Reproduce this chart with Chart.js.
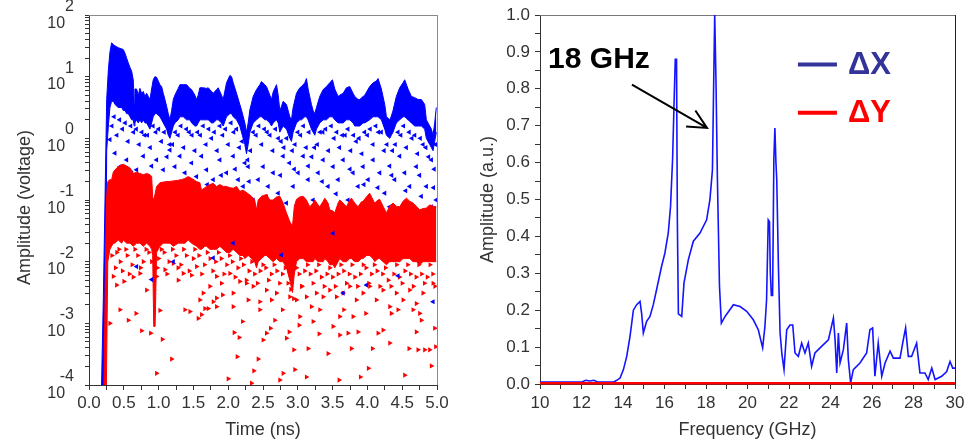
<!DOCTYPE html>
<html><head><meta charset="utf-8">
<script src="https://cdn.jsdelivr.net/npm/chart.js@4.4.1/dist/chart.umd.min.js"></script>
<style>
html,body{margin:0;padding:0;background:#fff;width:967px;height:442px;overflow:hidden}
canvas{position:absolute;top:0}
#c1{left:0}
#c2{left:470px}
</style></head><body>
<canvas id="c1" width="470" height="442"></canvas>
<canvas id="c2" width="497" height="442"></canvas>
<script>
// ================= DATA =================
// ---- Left panel (time domain), amplitudes given as log10(volt) ----
const timeTicks = [0,0.25,0.5,0.75,1,1.25,1.5,1.75,2,2.25,2.5,2.75,3,3.25,3.5,3.75,4,4.25,4.5,4.75,5];
const timeTickLabels = ['0.0','','0.5','','1.0','','1.5','','2.0','','2.5','','3.0','','3.5','','4.0','','4.5','','5.0'];
const ampDecades = [-4,-3,-2,-1,0,1,2];
const ampMinorMultipliers = [2,3,4,5,6,7,8,9];

// blue (ΔX) dense band: [time ns, upper log10, lower log10]
const blueBand = [[0.18,-4.0,-4.0],[0.206,-2.6,-4.0],[0.23,-1.0,-4.0],[0.254,0.63,-0.2],[0.278,1.11,0.2],[0.301,1.40,0.5],[0.325,1.55,0.6],[0.349,1.52,0.6],[0.373,1.50,0.55],[0.42,1.47,0.5],[0.47,1.45,0.5],[0.493,1.44,0.45],[0.517,1.38,0.45],[0.541,1.30,0.4],[0.565,1.22,0.4],[0.589,1.15,0.35],[0.612,1.09,0.3],[0.636,0.95,0.3],[0.65,0.57,0.2],[0.66,0.80,0.25],[0.684,0.80,0.3],[0.708,0.70,0.25],[0.732,0.81,0.3],[0.756,0.73,0.25],[0.78,0.76,0.3],[0.804,0.68,0.25],[0.828,0.73,0.25],[0.852,0.68,0.2],[0.876,0.63,0.15],[0.9,0.80,0.25],[0.923,0.95,0.35],[0.947,1.0,0.4],[0.971,0.99,0.4],[1.019,0.87,0.35],[1.043,0.84,0.3],[1.067,0.73,0.25],[1.091,0.63,0.2],[1.115,0.52,0.15],[1.139,0.40,0.05],[1.163,0.30,0.0],[1.187,0.45,0.1],[1.211,0.63,0.2],[1.234,0.70,0.25],[1.282,0.81,0.3],[1.306,0.87,0.35],[1.354,0.87,0.35],[1.402,0.87,0.3],[1.45,0.81,0.3],[1.474,0.79,0.25],[1.521,0.70,0.2],[1.545,0.63,0.2],[1.569,0.70,0.25],[1.593,0.82,0.3],[1.641,0.82,0.3],[1.689,0.81,0.3],[1.713,0.82,0.3],[1.761,0.76,0.25],[1.785,0.73,0.25],[1.833,0.79,0.3],[1.856,0.82,0.3],[1.904,0.70,0.25],[1.928,0.63,0.2],[1.976,0.90,0.35],[2.024,1.02,0.4],[2.048,1.0,0.4],[2.072,0.90,0.35],[2.12,0.73,0.3],[2.167,0.55,0.2],[2.191,0.46,0.1],[2.239,0.25,-0.1],[2.263,0.10,-0.25],[2.287,0.25,-0.1],[2.311,0.46,0.1],[2.359,0.68,0.25],[2.407,0.79,0.3],[2.455,0.87,0.35],[2.478,0.92,0.35],[2.526,0.87,0.3],[2.55,0.84,0.3],[2.598,0.70,0.25],[2.622,0.63,0.2],[2.646,0.75,0.25],[2.694,0.87,0.3],[2.718,0.70,0.25],[2.742,0.45,0.1],[2.766,0.52,0.15],[2.789,0.60,0.2],[2.837,0.55,0.15],[2.885,0.35,0.0],[2.909,0.30,-0.05],[2.933,0.50,0.1],[2.981,0.73,0.25],[3.029,0.82,0.3],[3.053,0.84,0.3],[3.101,0.90,0.35],[3.124,0.97,0.35],[3.148,0.80,0.3],[3.196,0.55,0.15],[3.22,0.45,0.1],[3.244,0.40,0.05],[3.268,0.50,0.15],[3.316,0.68,0.25],[3.364,0.79,0.3],[3.411,0.84,0.3],[3.459,0.90,0.35],[3.498,0.95,0.35],[3.531,0.80,0.3],[3.579,0.68,0.25],[3.603,0.70,0.25],[3.651,0.73,0.25],[3.699,0.82,0.3],[3.746,0.84,0.3],[3.794,0.73,0.25],[3.818,0.68,0.2],[3.866,0.63,0.2],[3.89,0.63,0.2],[3.938,0.68,0.25],[3.962,0.70,0.25],[4.033,0.84,0.3],[4.081,0.90,0.35],[4.129,0.93,0.35],[4.153,0.97,0.35],[4.201,0.80,0.3],[4.249,0.55,0.15],[4.273,0.35,0.05],[4.321,0.30,0.0],[4.344,0.36,0.05],[4.368,0.45,0.1],[4.416,0.68,0.25],[4.464,0.82,0.3],[4.512,0.90,0.35],[4.536,0.95,0.35],[4.584,0.80,0.3],[4.632,0.68,0.25],[4.68,0.66,0.2],[4.727,0.63,0.2],[4.775,0.63,0.2],[4.823,0.55,0.15],[4.847,0.30,0.0],[4.895,0.20,-0.1],[4.919,0.15,-0.15],[4.943,0.05,-0.2],[4.967,0.25,-0.05],[4.99,0.50,0.1]];

// red (ΔY) dense band: [time ns, upper log10, lower log10]
const redBand = [[0.215,-4.0,-4.0],[0.235,-2.2,-4.0],[0.25,-1.0,-4.0],[0.27,-0.70,-2.0],[0.30,-0.67,-1.8],[0.325,-0.67,-1.75],[0.349,-0.55,-1.7],[0.373,-0.51,-1.7],[0.42,-0.46,-1.65],[0.47,-0.43,-1.7],[0.493,-0.42,-1.65],[0.541,-0.45,-1.7],[0.589,-0.48,-1.7],[0.636,-0.57,-1.75],[0.684,-0.55,-1.7],[0.732,-0.57,-1.7],[0.78,-0.59,-1.75],[0.828,-0.57,-1.7],[0.876,-0.59,-1.75],[0.90,-0.62,-1.8],[0.915,-0.95,-1.9],[0.93,-1.0,-3.05],[0.95,-0.9,-3.05],[0.971,-0.78,-1.85],[1.019,-0.72,-1.75],[1.067,-0.71,-1.7],[1.115,-0.70,-1.7],[1.163,-0.70,-1.7],[1.211,-0.69,-1.75],[1.282,-0.68,-1.7],[1.33,-0.67,-1.7],[1.378,-0.65,-1.7],[1.426,-0.62,-1.65],[1.474,-0.65,-1.7],[1.545,-0.70,-1.75],[1.593,-0.72,-1.8],[1.617,-0.84,-1.8],[1.665,-0.80,-1.75],[1.689,-0.78,-1.75],[1.737,-0.75,-1.8],[1.785,-0.73,-1.8],[1.833,-0.78,-1.8],[1.88,-0.75,-1.75],[1.928,-0.78,-1.8],[1.976,-0.78,-1.85],[2.024,-0.80,-1.85],[2.072,-0.81,-1.8],[2.12,-0.78,-1.85],[2.167,-0.86,-1.9],[2.215,-0.84,-1.9],[2.239,-0.86,-1.95],[2.287,-0.90,-1.9],[2.335,-0.94,-1.95],[2.38,-1.0,-2.0],[2.407,-1.16,-2.1],[2.431,-1.0,-2.0],[2.478,-0.94,-1.95],[2.526,-0.92,-1.9],[2.55,-0.91,-1.9],[2.598,-1.0,-1.95],[2.646,-1.0,-2.0],[2.694,-0.95,-1.95],[2.742,-0.94,-2.0],[2.789,-1.05,-2.0],[2.837,-1.21,-2.1],[2.885,-1.35,-2.3],[2.923,-1.43,-2.5],[2.95,-1.1,-2.2],[2.981,-0.99,-2.0],[3.029,-0.95,-1.95],[3.077,-0.94,-1.95],[3.124,-1.0,-2.0],[3.172,-1.11,-2.0],[3.22,-1.05,-2.0],[3.244,-1.0,-1.95],[3.292,-1.08,-2.0],[3.316,-1.11,-2.0],[3.364,-1.02,-2.0],[3.388,-0.97,-1.95],[3.435,-1.05,-2.0],[3.459,-1.16,-2.05],[3.507,-1.18,-2.05],[3.531,-1.21,-2.1],[3.579,-1.05,-2.0],[3.603,-1.0,-1.95],[3.651,-1.05,-2.0],[3.699,-1.11,-2.0],[3.746,-1.0,-1.95],[3.77,-0.97,-1.95],[3.818,-1.05,-2.0],[3.866,-1.11,-2.0],[3.914,-1.03,-1.95],[3.938,-1.02,-1.95],[3.986,-0.95,-1.9],[4.033,-0.89,-1.9],[4.081,-1.0,-1.95],[4.105,-1.05,-2.0],[4.153,-1.0,-1.95],[4.177,-0.99,-1.95],[4.225,-1.10,-2.0],[4.273,-1.21,-2.05],[4.321,-1.10,-2.0],[4.368,-1.05,-2.0],[4.416,-1.10,-2.0],[4.464,-1.11,-2.0],[4.512,-1.02,-1.95],[4.56,-0.97,-1.95],[4.608,-1.02,-1.95],[4.656,-1.05,-2.0],[4.703,-1.10,-2.0],[4.751,-1.16,-2.05],[4.799,-1.14,-2.0],[4.847,-1.13,-2.0],[4.895,-1.08,-2.0],[4.943,-1.10,-2.0],[4.99,-1.11,-2.0]];

// isolated blue samples below the dense band: [time ns, log10]
const blueDots = [[0.301,-0.02],[0.373,-0.24],[0.445,-0.46],[0.541,-0.35],[0.612,-0.56],[0.684,-0.51],[0.78,-0.29],[0.852,-0.62],[0.971,-0.35],[1.067,-0.51],[1.163,-0.19],[1.234,-0.46],[1.306,-0.29],[1.378,-0.56],[1.474,-0.40],[1.545,-0.62],[1.617,-0.29],[1.689,-0.51],[1.785,-0.67],[1.88,-0.35],[1.976,-0.56],[2.072,-0.29],[2.144,-0.67],[2.215,-0.78],[2.287,-0.46],[2.359,-1.0],[2.431,-0.67],[2.502,-0.46],[2.574,-0.78],[2.646,-0.56],[2.718,-0.89],[2.789,-0.29],[2.837,-1.05],[2.933,-0.78],[3.005,-0.56],[3.077,-0.29],[3.148,-0.67],[3.22,-1.0],[3.292,-0.56],[3.364,-0.35],[3.435,-0.78],[3.507,-0.46],[3.579,-0.67],[3.651,-0.35],[3.722,-1.0],[3.794,-0.56],[3.866,-0.78],[3.938,-0.46],[4.01,-0.67],[4.081,-0.35],[4.177,-0.56],[4.249,-0.89],[4.321,-1.11],[4.392,-0.67],[4.464,-0.29],[4.536,-0.56],[4.608,-0.78],[4.703,-0.46],[4.775,-0.94],[4.847,-0.78],[4.919,-1.11],[4.99,-1.0],[4.368,-1.21],[4.943,-1.21],
[0.33,0.2],[0.40,0.05],[0.48,0.15],[0.56,-0.05],[0.64,0.1],[0.72,-0.1],[0.80,0.05],[0.88,-0.15],[0.96,0.1],[1.04,-0.05],[1.12,-0.3],[1.20,-0.1],[1.28,0.05],[1.36,-0.15],[1.44,0.1],[1.52,-0.2],[1.60,0.05],[1.68,-0.1],[1.76,0.0],[1.84,-0.2],[1.92,0.05],[2.00,-0.1],[2.08,0.1],[2.16,-0.15],[2.24,-0.4],[2.32,-0.2],[2.40,0.05],[2.48,-0.1],[2.56,0.1],[2.64,-0.2],[2.72,0.0],[2.80,-0.15],[2.88,-0.4],[2.96,-0.1],[3.04,0.05],[3.12,-0.15],[3.20,-0.3],[3.28,-0.1],[3.36,0.1],[3.44,-0.2],[3.52,0.0],[3.60,-0.15],[3.68,0.05],[3.76,-0.2],[3.84,-0.05],[3.92,-0.25],[4.00,0.05],[4.08,-0.1],[4.16,0.1],[4.24,-0.2],[4.32,-0.45],[4.40,-0.1],[4.48,0.05],[4.56,-0.15],[4.64,0.0],[4.72,-0.25],[4.80,-0.1],[4.88,-0.3],[4.96,-0.5],
[0.36,0.35],[0.44,0.3],[0.52,0.25],[0.60,0.2],[0.68,0.15],[0.76,0.1],[0.84,0.05],[0.92,0.2],[1.00,0.15],[1.08,0.1],[1.16,-0.1],[1.24,0.1],[1.32,0.2],[1.40,0.15],[1.48,0.05],[1.56,0.1],[1.64,0.2],[1.72,0.15],[1.80,0.1],[1.88,0.2],[1.96,0.15],[2.04,0.25],[2.12,0.15],[2.20,-0.05],[2.28,-0.35],[2.36,0.1],[2.44,0.2],[2.52,0.15],[2.60,0.05],[2.68,0.15],[2.76,-0.05],[2.84,0.0],[2.92,-0.2],[3.00,0.1],[3.08,0.2],[3.16,0.1],[3.24,-0.15],[3.32,0.1],[3.40,0.15],[3.48,0.2],[3.56,0.1],[3.64,0.05],[3.72,0.15],[3.80,0.05],[3.88,0.0],[3.96,0.1],[4.04,0.15],[4.12,0.2],[4.20,0.1],[4.28,-0.1],[4.36,-0.2],[4.44,0.1],[4.52,0.2],[4.60,0.1],[4.68,0.05],[4.76,0.0],[4.84,-0.15],[4.92,-0.35],[4.98,-0.1],
[0.50,-0.7],[0.66,-0.8],[0.90,-0.45],[1.10,-0.75],[1.30,-0.7],[1.50,-0.85],[1.70,-0.75],[1.90,-0.6],[2.10,-0.5],[2.30,-0.7],[2.55,-0.95],[2.75,-0.6],[2.95,-0.5],[3.15,-0.45],[3.35,-0.7],[3.55,-0.9],[3.75,-0.5],[3.95,-0.75],[4.15,-0.8],[4.35,-0.6],[4.55,-0.85],[4.75,-0.6],[4.95,-0.8]];

// blue samples that show through inside the red cloud
const blueDotsOverRed = [[1.211,-2.0],[1.785,-1.94],[0.9,-2.29],[0.684,-2.08],[2.766,-1.89],[3.986,-2.38],[4.44,-2.23],[4.943,-2.65],[3.507,-1.54],[3.651,-2.51],[2.072,-1.70]];

// isolated red samples below the dense band: [time ns, log10]
const redDots = [[0.301,-3.0],[0.445,-2.78],[0.565,-2.95],[0.675,-2.84],[0.756,-3.12],[0.885,-3.16],[0.971,-3.81],[1.053,-3.26],[1.019,-2.79],[1.187,-3.58],[1.378,-2.78],[1.45,-2.81],[1.569,-2.92],[1.617,-2.86],[1.665,-2.76],[1.713,-2.76],[1.785,-2.65],[1.833,-2.59],[1.919,-2.54],[2.0,-3.9],[2.086,-3.15],[2.129,-3.54],[2.158,-3.23],[2.206,-2.97],[2.287,-2.62],[2.335,-3.97],[2.368,-3.77],[2.431,-3.58],[2.502,-3.27],[2.55,-3.16],[2.608,-3.08],[2.67,-2.95],[2.742,-3.92],[2.789,-3.81],[2.837,-3.24],[2.876,-3.14],[2.943,-3.43],[2.957,-3.75],[3.019,-3.03],[3.124,-3.87],[3.148,-3.41],[3.22,-2.97],[3.306,-3.17],[3.435,-3.49],[3.507,-3.05],[3.593,-3.92],[3.603,-3.19],[3.66,-2.78],[3.722,-3.16],[3.77,-3.41],[3.866,-3.14],[3.9,-3.87],[3.976,-2.84],[4.014,-3.73],[4.072,-3.41],[4.153,-3.16],[4.225,-3.11],[4.321,-3.32],[4.344,-2.84],[4.44,-2.78],[4.536,-3.84],[4.598,-3.41],[4.703,-3.14],[4.727,-3.43],[4.775,-2.95],[4.823,-3.43],[4.919,-3.69],[4.967,-3.08],[4.981,-3.38],[4.895,-3.43],
[0.349,-2.24],[0.397,-2.38],[0.502,-2.32],[0.636,-2.25],[0.732,-2.19],[0.828,-2.46],[0.971,-2.24],[1.091,-2.13],[1.211,-2.03],[1.282,-2.30],[1.354,-2.19],[1.474,-2.22],[1.545,-2.08],[1.641,-2.51],[1.737,-2.40],[1.833,-2.24],[1.904,-2.35],[2.024,-2.19],[2.072,-2.51],[2.167,-2.32],[2.263,-2.35],[2.359,-2.40],[2.455,-2.65],[2.55,-2.46],[2.622,-2.62],[2.694,-2.51],[2.78,-2.78],[2.885,-2.57],[2.981,-2.62],[3.053,-2.40],[3.124,-2.57],[3.196,-2.73],[3.268,-2.51],[3.364,-2.57],[3.459,-2.46],[3.555,-2.57],[3.651,-2.51],[3.746,-2.40],[3.842,-2.62],[3.938,-2.51],[4.033,-2.40],[4.129,-2.62],[4.225,-2.46],[4.321,-2.73],[4.416,-2.51],[4.512,-2.62],[4.608,-2.46],[4.703,-2.68],[4.799,-2.51],[4.943,-2.35],[4.751,-2.84],[4.656,-2.78],[3.603,-2.89],[3.794,-2.89],[3.316,-2.78],[3.029,-2.89],[2.455,-2.78],[2.072,-2.73],[1.593,-2.62],[1.833,-2.73],
[0.40,-1.85],[0.45,-2.0],[0.55,-1.9],[0.62,-2.05],[0.70,-1.9],[0.78,-2.0],[0.86,-1.85],[1.00,-1.95],[1.08,-1.85],[1.15,-2.0],[1.25,-1.9],[1.32,-2.05],[1.40,-1.9],[1.50,-1.95],[1.58,-1.9],[1.66,-2.05],[1.74,-1.95],[1.82,-2.0],[1.90,-1.95],[1.98,-2.05],[2.06,-2.0],[2.14,-2.1],[2.22,-2.05],[2.30,-2.15],[2.38,-2.2],[2.46,-2.15],[2.54,-2.1],[2.62,-2.2],[2.70,-2.15],[2.78,-2.2],[2.86,-2.35],[2.94,-2.6],[3.02,-2.2],[3.10,-2.15],[3.18,-2.2],[3.26,-2.15],[3.34,-2.25],[3.42,-2.2],[3.50,-2.25],[3.58,-2.2],[3.66,-2.15],[3.74,-2.2],[3.82,-2.25],[3.90,-2.2],[3.98,-2.1],[4.06,-2.2],[4.14,-2.15],[4.22,-2.2],[4.30,-2.3],[4.38,-2.2],[4.46,-2.25],[4.54,-2.15],[4.62,-2.2],[4.70,-2.25],[4.78,-2.2],[4.86,-2.25],[4.94,-2.2],
[0.33,-1.9],[0.38,-2.1],[0.43,-1.8],[0.48,-2.15],[0.53,-1.8],[0.58,-2.2],[0.66,-1.8],[0.74,-2.1],[0.82,-1.8],[0.90,-2.0],[0.98,-2.1],[1.04,-1.8],[1.12,-2.2],[1.20,-1.8],[1.28,-2.1],[1.36,-1.8],[1.44,-2.15],[1.52,-1.8],[1.62,-2.2],[1.70,-1.85],[1.78,-2.15],[1.86,-1.85],[1.94,-2.2],[2.02,-1.9],[2.10,-2.25],[2.18,-1.95],[2.26,-2.3],[2.34,-2.0],[2.42,-2.35],[2.50,-2.05],[2.58,-2.3],[2.66,-2.05],[2.74,-2.35],[2.82,-2.1],[2.90,-2.45],[2.98,-2.1],[3.06,-2.4],[3.14,-2.05],[3.22,-2.35],[3.30,-2.05],[3.38,-2.4],[3.46,-2.1],[3.54,-2.4],[3.62,-2.05],[3.70,-2.35],[3.78,-2.05],[3.86,-2.4],[3.94,-2.05],[4.02,-2.35],[4.10,-2.05],[4.18,-2.4],[4.26,-2.1],[4.34,-2.4],[4.42,-2.05],[4.50,-2.35],[4.58,-2.05],[4.66,-2.4],[4.74,-2.05],[4.82,-2.35],[4.90,-2.05],[4.97,-2.4]];

// ---- Right panel (spectrum) ----
const freqTicks = [10,11,12,13,14,15,16,17,18,19,20,21,22,23,24,25,26,27,28,29,30];
const freqTickLabels = ['10','','12','','14','','16','','18','','20','','22','','24','','26','','28','','30'];
const auTicks = [0,0.05,0.1,0.15,0.2,0.25,0.3,0.35,0.4,0.45,0.5,0.55,0.6,0.65,0.7,0.75,0.8,0.85,0.9,0.95,1.0];
const auTickLabels = ['0.0','','0.1','','0.2','','0.3','','0.4','','0.5','','0.6','','0.7','','0.8','','0.9','','1.0'];

const dxFreq = [10.0,10.5,11.0,11.5,12.0,12.2,12.4,12.6,12.8,13.2,13.53,13.7,13.86,14.02,14.18,14.34,14.42,14.5,14.66,14.82,14.9,14.98,15.14,15.3,15.46,15.62,15.86,16.02,16.18,16.29,16.39,16.47,16.52,16.58,16.62,16.67,16.83,16.94,17.15,17.39,17.71,18.03,18.19,18.31,18.37,18.42,18.48,18.55,18.65,18.74,18.92,19.32,19.64,19.96,20.28,20.52,20.73,20.84,20.92,21.0,21.06,21.1,21.15,21.21,21.27,21.32,21.37,21.41,21.49,21.57,21.66,21.76,21.89,22.05,22.18,22.29,22.45,22.61,22.77,22.93,23.09,23.25,23.57,23.9,24.14,24.22,24.3,24.38,24.46,24.62,24.78,24.86,24.97,25.1,25.42,25.74,25.9,26.03,26.14,26.3,26.47,26.63,26.87,27.03,27.35,27.51,27.62,27.75,27.91,28.15,28.31,28.55,28.71,28.88,29.04,29.36,29.6,29.76,29.89,30.0];
const dxAmp = [0.005,0.005,0.005,0.005,0.005,0.010,0.008,0.010,0.005,0.005,0.005,0.010,0.016,0.039,0.075,0.13,0.165,0.20,0.215,0.224,0.19,0.138,0.17,0.183,0.215,0.256,0.319,0.355,0.409,0.48,0.61,0.78,0.88,0.88,0.44,0.19,0.183,0.274,0.337,0.387,0.409,0.445,0.50,0.58,0.815,1.0,0.825,0.554,0.265,0.165,0.183,0.215,0.21,0.197,0.174,0.147,0.098,0.156,0.229,0.445,0.44,0.30,0.24,0.24,0.61,0.694,0.60,0.554,0.319,0.138,0.08,0.039,0.147,0.16,0.16,0.084,0.075,0.111,0.084,0.111,0.048,0.084,0.102,0.12,0.179,0.12,0.03,0.138,0.057,0.093,0.165,0.066,0.003,0.039,0.057,0.084,0.147,0.152,0.021,0.111,0.021,0.057,0.089,0.07,0.07,0.12,0.152,0.075,0.075,0.111,0.03,0.03,0.012,0.043,0.012,0.021,0.034,0.061,0.043,0.043];
const dyFreq = [10, 15, 20, 25, 30];
const dyAmp = [0.002, 0.002, 0.002, 0.002, 0.002];

const noteText = '18 GHz';
const noteTextAt = [10.39, 0.857];     // GHz, a.u. (left / baseline)
const noteArrowFrom = [14.43, 0.811];
const noteArrowTo = [18.05, 0.694];
const legendItems = [
  {label: 'ΔX', color: '#333399', y: 0.866},
  {label: 'ΔY', color: '#ff0000', y: 0.735}
];
const legendLineFrom = 22.43, legendLineTo = 24.31, legendTextX = 24.84;

// ================= RENDER =================
const FONT = "'Liberation Sans', Arial, Helvetica, sans-serif";
const TEXT = '#333333';

const ampTickValues = [], ampTickLabels = [];
ampDecades.forEach((e, k) => {
  ampTickValues.push(Math.pow(10, e)); ampTickLabels.push([String(e), '10  ']);
  if (k < ampDecades.length - 1) ampMinorMultipliers.forEach(m => { ampTickValues.push(m * Math.pow(10, e)); ampTickLabels.push(''); });
});

const framePlugin = {
  id: 'frame',
  beforeDatasetsDraw(chart, args, opts) {
    const {ctx, chartArea: a} = chart;
    ctx.save(); ctx.lineWidth = 1;
    ctx.strokeStyle = opts.top; ctx.beginPath(); ctx.moveTo(a.left, a.top + 0.5); ctx.lineTo(a.right + 1, a.top + 0.5); ctx.stroke();
    ctx.strokeStyle = opts.right; ctx.beginPath(); ctx.moveTo(a.right + 0.5, a.top); ctx.lineTo(a.right + 0.5, a.bottom); ctx.stroke();
    ctx.restore();
  }
};

const up = rows => rows.map(r => ({x: r[0], y: Math.pow(10, r[1])}));
const lo = rows => rows.map(r => ({x: r[0], y: Math.pow(10, r[2])}));
const dots = rows => rows.map(r => ({x: r[0], y: Math.pow(10, r[1])}));
const dotStyle = (c, rot) => ({showLine: false, pointStyle: 'triangle', rotation: rot, pointRadius: 3, pointBackgroundColor: c, pointBorderWidth: 0, pointBorderColor: c, borderColor: c});
const bandStyle = c => ({borderColor: c, borderWidth: 1, backgroundColor: c, pointRadius: 0, tension: 0});

const tickFont = {family: FONT, size: 17};
const titleFont = {family: FONT, size: 18};

new Chart(document.getElementById('c1'), {
  type: 'line',
  data: {datasets: [
    {data: dots(blueDotsOverRed), ...dotStyle('#0000ff', 270)},
    {data: dots(redDots), ...dotStyle('#ff0000', 90)},
    {data: up(redBand), ...bandStyle('#ff0000'), fill: '+1'},
    {data: lo(redBand), ...bandStyle('#ff0000'), fill: false},
    {data: dots(blueDots), ...dotStyle('#0000ff', 270)},
    {data: up(blueBand), ...bandStyle('#0000ff'), fill: '+1'},
    {data: lo(blueBand), ...bandStyle('#0000ff'), fill: false}
  ]},
  options: {
    responsive: false, animation: false, devicePixelRatio: 1,
    layout: {padding: {top: 15, right: 33, left: 0, bottom: 0}},
    plugins: {legend: {display: false}, tooltip: {enabled: false}, frame: {top: '#8a8a8a', right: '#8a8a8a'}},
    scales: {
      x: {
        type: 'linear', min: 0, max: 5,
        afterBuildTicks: s => { s.ticks = timeTicks.map(v => ({value: v})); },
        afterFit: s => { s.height = 57; s.paddingLeft = 0; s.paddingRight = 0; },
        ticks: {autoSkip: false, maxRotation: 0, padding: 3, color: TEXT, font: tickFont, callback: (v, i) => timeTickLabels[i]},
        grid: {drawOnChartArea: false, tickLength: 5, tickColor: '#333'},
        border: {color: '#333', width: 1},
        title: {display: true, text: 'Time (ns)', color: TEXT, font: titleFont, padding: {top: 0, bottom: 1}}
      },
      y: {
        type: 'logarithmic', min: 1e-4, max: 100,
        afterBuildTicks: s => { s.ticks = ampTickValues.map(v => ({value: v})); },
        afterFit: s => { s.width = 89; s.paddingTop = 0; s.paddingBottom = 0; },
        ticks: {autoSkip: false, padding: 11, color: TEXT, font: {family: FONT, size: 16, lineHeight: 1.05}, callback: (v, i) => ampTickLabels[i]},
        grid: {drawOnChartArea: false, tickLength: 4, tickColor: '#333'},
        border: {color: '#333', width: 1},
        title: {display: true, text: 'Amplitude (voltage)   ', color: TEXT, font: titleFont, padding: {top: 14, bottom: 0}}
      }
    }
  },
  plugins: [framePlugin]
});

const notePlugin = {
  id: 'note',
  afterDatasetsDraw(chart) {
    const {ctx, scales: {x, y}} = chart;
    ctx.save();
    ctx.fillStyle = '#000'; ctx.font = `bold 30px ${FONT}`; ctx.textAlign = 'left'; ctx.textBaseline = 'alphabetic';
    ctx.fillText(noteText, x.getPixelForValue(noteTextAt[0]), y.getPixelForValue(noteTextAt[1]));
    const x0 = x.getPixelForValue(noteArrowFrom[0]), y0 = y.getPixelForValue(noteArrowFrom[1]);
    const x1 = x.getPixelForValue(noteArrowTo[0]), y1 = y.getPixelForValue(noteArrowTo[1]);
    const ang = Math.atan2(y1 - y0, x1 - x0), L = 21, spread = 0.46;
    ctx.strokeStyle = '#000'; ctx.lineWidth = 2; ctx.lineCap = 'butt';
    ctx.beginPath(); ctx.moveTo(x0, y0); ctx.lineTo(x1, y1);
    ctx.moveTo(x1 + L * Math.cos(ang + Math.PI - spread), y1 + L * Math.sin(ang + Math.PI - spread));
    ctx.lineTo(x1, y1);
    ctx.lineTo(x1 + L * Math.cos(ang + Math.PI + spread), y1 + L * Math.sin(ang + Math.PI + spread));
    ctx.stroke();
    // legend
    ctx.font = `bold 31px ${FONT}`; ctx.textBaseline = 'middle';
    legendItems.forEach(it => {
      const yy = y.getPixelForValue(it.y);
      ctx.strokeStyle = it.color; ctx.lineWidth = 4;
      ctx.beginPath(); ctx.moveTo(x.getPixelForValue(legendLineFrom), yy); ctx.lineTo(x.getPixelForValue(legendLineTo), yy); ctx.stroke();
      ctx.fillStyle = it.color;
      ctx.fillText(it.label, x.getPixelForValue(legendTextX), yy + 1);
    });
    ctx.restore();
  }
};

new Chart(document.getElementById('c2'), {
  type: 'line',
  data: {datasets: [
    {label: 'ΔY', data: dyFreq.map((f, i) => ({x: f, y: dyAmp[i]})), borderColor: '#ff0000', borderWidth: 2.5, pointRadius: 0, clip: false},
    {label: 'ΔX', data: dxFreq.map((f, i) => ({x: f, y: dxAmp[i]})), borderColor: '#1414ff', borderWidth: 1.6, pointRadius: 0, tension: 0}
  ]},
  options: {
    responsive: false, animation: false, devicePixelRatio: 1,
    layout: {padding: {top: 15, right: 12, left: 0, bottom: 0}},
    plugins: {legend: {display: false}, tooltip: {enabled: false}, frame: {top: '#777', right: '#222'}},
    scales: {
      x: {
        type: 'linear', min: 10, max: 30,
        afterBuildTicks: s => { s.ticks = freqTicks.map(v => ({value: v})); },
        afterFit: s => { s.height = 58; s.paddingLeft = 0; s.paddingRight = 0; },
        ticks: {autoSkip: false, maxRotation: 0, padding: 4, color: TEXT, font: tickFont, callback: (v, i) => freqTickLabels[i]},
        grid: {drawOnChartArea: false, tickLength: 5, tickColor: '#333'},
        border: {color: '#333', width: 1},
        title: {display: true, text: 'Frequency (GHz)', color: TEXT, font: titleFont, padding: {top: 0, bottom: 1}}
      },
      y: {
        type: 'linear', min: 0, max: 1,
        afterBuildTicks: s => { s.ticks = auTicks.map(v => ({value: v})); },
        afterFit: s => { s.width = 70; s.paddingTop = 0; s.paddingBottom = 0; },
        ticks: {autoSkip: false, padding: 5, color: TEXT, font: tickFont, callback: (v, i) => auTickLabels[i]},
        grid: {drawOnChartArea: false, tickLength: 5, tickColor: '#333'},
        border: {color: '#333', width: 1},
        title: {display: true, text: 'Amplitude (a.u.)', color: TEXT, font: titleFont, padding: {top: 7, bottom: 0}}
      }
    }
  },
  plugins: [framePlugin, notePlugin]
});
</script>
</body></html>
